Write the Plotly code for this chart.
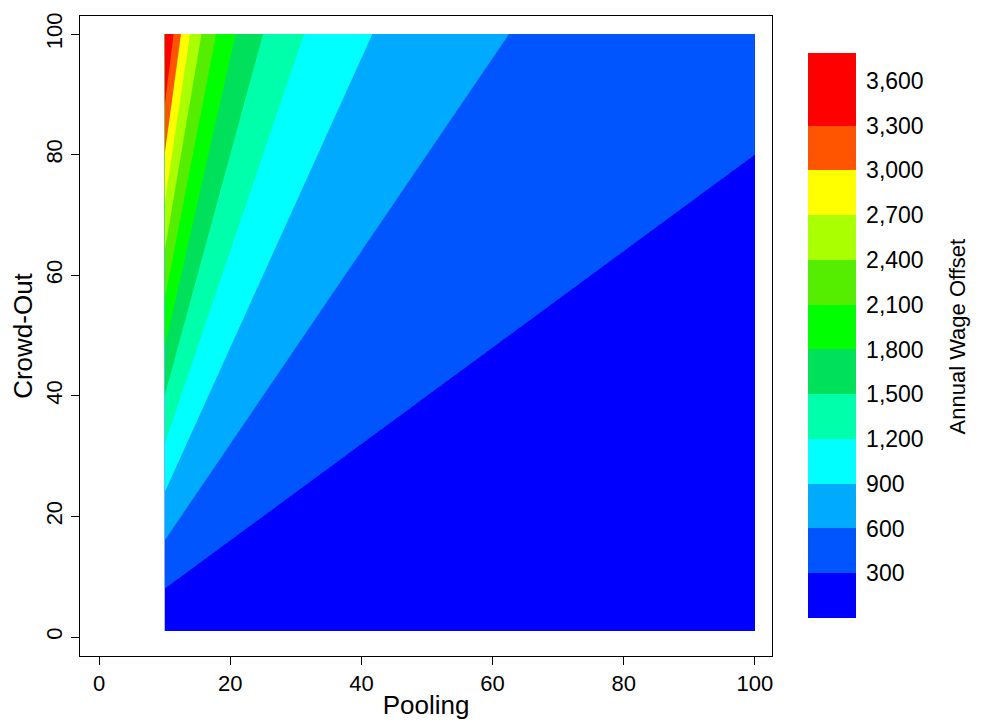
import numpy as np
import plotly.graph_objects as go

# grid: pooling 10..100, crowd-out 1..100
pooling = np.linspace(10, 100, 181)
crowd_out = np.linspace(1, 100, 199)
# wage offset surface (300 contour runs through (10, 8) and (100, 80))
offset_per_ratio = 375.0
z = offset_per_ratio * crowd_out[:, None] / pooling[None, :]

levels = list(range(0, 3900, 300))
colors = ["#0000FF", "#0055FF", "#00AAFF", "#00FFFF", "#00FFAA", "#00E05A",
          "#00FF00", "#55EE00", "#AAFF00", "#FFFF00", "#FFAA00", "#FF5500", "#FF0000"]
tick_vals = list(range(300, 3900, 300))

zmax = 3787.0
cs = []
for i, c in enumerate(colors):
    lo = levels[i] / zmax
    hi = min((levels[i] + 300) / zmax, 1.0)
    cs.append([lo, c])
    cs.append([hi, c])

fig = go.Figure(go.Contour(
    x=pooling, y=crowd_out, z=z,
    zmin=0, zmax=zmax,
    contours=dict(start=0, end=3900, size=300, coloring="fill", showlines=False),
    line_width=0,
    colorscale=cs,
    colorbar=dict(
        x=1.052, xanchor="left", y=0.5008, yanchor="middle",
        len=0.883, thickness=48, outlinewidth=0, ypad=0, xpad=0,
        tickvals=tick_vals, ticktext=[f"{v:,}" for v in tick_vals],
        ticks="outside", ticklen=6, tickcolor="white", tickfont=dict(size=23, color="black"),
    ),
))

# colorbar title placed by hand, R puts it further out than plotly does
fig.add_annotation(text="Annual Wage Offset", textangle=-90, showarrow=False,
                   xref="paper", yref="paper", x=1.268, y=0.5,
                   xanchor="center", yanchor="middle", font=dict(size=22, color="black"))

axis_font = dict(family="Liberation Sans, Arial", size=22, color="black")
fig.update_layout(
    width=982, height=726,
    margin=dict(l=72, r=218, t=8, b=78, autoexpand=False),
    plot_bgcolor="white", paper_bgcolor="white",
    font=axis_font,
    xaxis=dict(range=[-2.9, 102.6], tickvals=[0, 20, 40, 60, 80, 100], automargin=False,
               ticks="outside", ticklen=8, tickcolor="black", showgrid=False, zeroline=False,
               showline=True, linecolor="black", mirror=True, linewidth=1,
               title=dict(text="Pooling", standoff=0)),
    yaxis=dict(range=[-3.15, 103], tickvals=[0, 20, 40, 60, 80, 100], tickangle=-90, automargin=False,
               ticks="outside", ticklen=8, tickcolor="black", showgrid=False, zeroline=False,
               showline=True, linecolor="black", mirror=True, linewidth=1,
               title=dict(text="Crowd-Out", standoff=4)),
)

fig.write_html("out.html")
